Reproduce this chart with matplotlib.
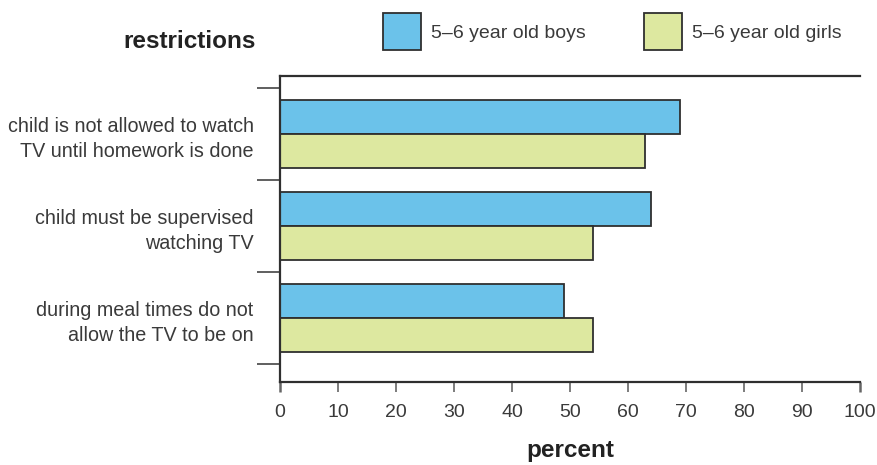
import numpy as np
import matplotlib
matplotlib.use("Agg")
import matplotlib.pyplot as plt
from matplotlib.patches import Rectangle

plt.rcParams["font.family"] = ["Liberation Sans", "DejaVu Sans"]

restrictions = [
    "child is not allowed to watch\nTV until homework is done",
    "child must be supervised\nwatching TV",
    "during meal times do not\nallow the TV to be on",
]
boys = [69, 64, 49]
girls = [63, 54, 54]
series_names = ["5\u20136 year old boys", "5\u20136 year old girls"]
xticks = list(range(0, 101, 10))

blue = "#6bc2ea"
green = "#dde8a0"
edge = "#2f2f2f"
txt = "#3a3a3a"

W, H = 877, 465
fig = plt.figure(figsize=(W / 100, H / 100), dpi=100)
ax = fig.add_axes([280 / W, 1 - 382 / H, 580 / W, (382 - 76) / H])

y = np.arange(len(restrictions))
h = 0.37
ax.barh(y - h / 2, boys, height=h, color=blue, edgecolor=edge, linewidth=1.3)
ax.barh(y + h / 2, girls, height=h, color=green, edgecolor=edge, linewidth=1.3)

ax.set_xlim(0, 100)
ax.set_ylim(2.70, -0.63)
ax.set_xticks(xticks)
ax.set_xticklabels([str(v) for v in xticks], fontsize=14, color=txt)
ax.tick_params(axis="x", length=7.5, width=1.2, color="#666666", pad=8)
# end ticks drawn as heavy as the spines
for t in (ax.xaxis.get_major_ticks()[0], ax.xaxis.get_major_ticks()[-1]):
    t.tick1line.set_color(edge)
    t.tick1line.set_markeredgewidth(1.8)

ax.set_yticks(y)
ax.set_yticklabels(restrictions, fontsize=14.2, color=txt, linespacing=1.42)
ax.tick_params(axis="y", which="major", length=0, pad=19)
ax.set_yticks([-0.5, 0.5, 1.5, 2.5], minor=True)
ax.tick_params(axis="y", which="minor", length=16.5, width=1.2, color="#444444")

for s in ["top", "bottom", "left"]:
    ax.spines[s].set_color(edge)
    ax.spines[s].set_linewidth(1.6)
ax.spines["right"].set_visible(False)

fig.text(190 / W, 1 - 42 / H, "restrictions", fontsize=17.5, fontweight="bold",
         ha="center", va="center", color="#222222")
fig.text(570 / W, 1 - 450 / H, "percent", fontsize=17.5, fontweight="bold",
         ha="center", va="center", color="#222222")

# legend boxes along the top
for x0, col, name in [(383, blue, series_names[0]), (644, green, series_names[1])]:
    fig.add_artist(Rectangle((x0 / W, 1 - 50 / H), 38 / W, 37 / H,
                             transform=fig.transFigure, facecolor=col,
                             edgecolor=edge, linewidth=1.3))
    fig.text((x0 + 48) / W, 1 - 33 / H, name, fontsize=14, color=txt,
             ha="left", va="center")

fig.savefig("out.png", dpi=100)
